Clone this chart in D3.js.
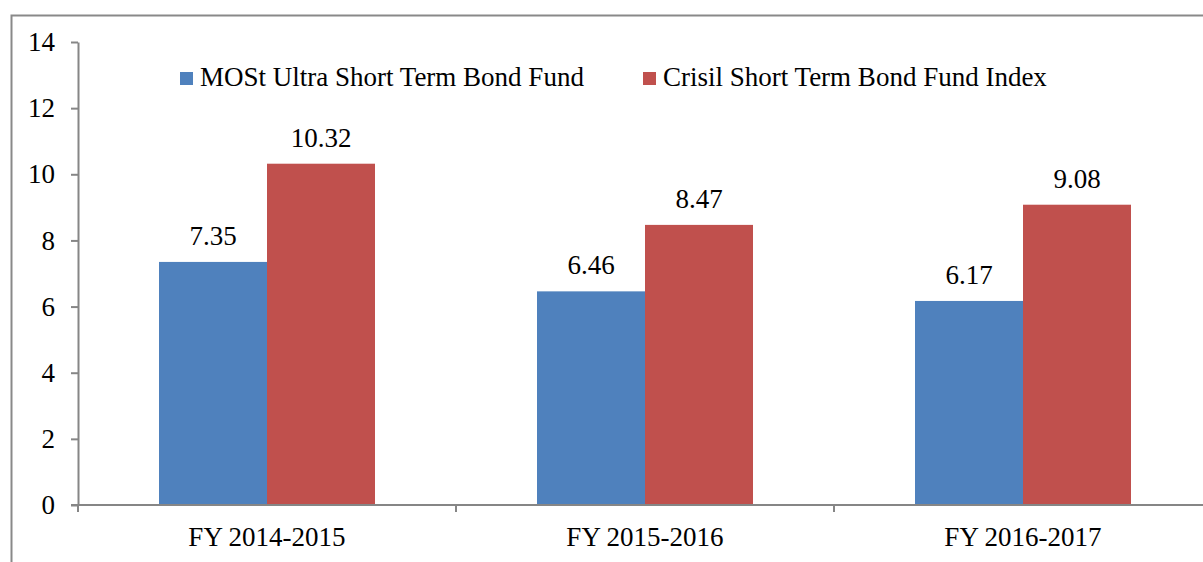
<!DOCTYPE html>
<html lang="en">
<head>
    <meta charset="utf-8">
    <title>MOSt Ultra Short Term Bond Fund vs Crisil Index</title>
    <script src="https://d3js.org/d3.v7.min.js"></script>
    <style>
        body { margin: 0; background: #fff; }
        svg { display: block; }
        text { font-family: "Liberation Serif", "Times New Roman", serif; fill: #000; font-size: 27px; }
        .axis path, .axis line { stroke: #868686; stroke-width: 2; }
    </style>
</head>
<body>
<script>
    // chart data
    var categories = ["FY 2014-2015", "FY 2015-2016", "FY 2016-2017"];
    var seriesNames = ["MOSt Ultra Short Term Bond Fund", "Crisil Short Term Bond Fund Index"];
    var fundValues = [7.35, 6.46, 6.17];
    var indexValues = [10.32, 8.47, 9.08];
    var yTicks = [0, 2, 4, 6, 8, 10, 12, 14];
    var colors = ["#4f81bd", "#c0504d"];

    var width = 1203, height = 562;
    var margin = {left: 78, top: 42, bottom: 505};
    var plotRight = 78 + 3 * 378; // plot runs past the right edge (cropped)

    var svg = d3.select("body").append("svg")
        .attr("width", width)
        .attr("height", height);

    // outer frame (only left and top visible)
    svg.append("path")
        .attr("d", "M11.5,562 V15.5 H1203")
        .attr("fill", "none")
        .attr("stroke", "#898989")
        .attr("stroke-width", 2);

    var x = d3.scaleBand()
        .domain(categories)
        .range([margin.left, plotRight]);

    var x1 = d3.scaleBand()
        .domain([0, 1])
        .range([0, x.bandwidth()])
        .paddingOuter(0.75);

    var y = d3.scaleLinear()
        .domain([0, 14])
        .range([margin.bottom, margin.top]);

    // y axis
    svg.append("g")
        .attr("class", "axis")
        .attr("transform", "translate(" + margin.left + ",0)")
        .call(d3.axisLeft(y).tickValues(yTicks).tickSize(7).tickSizeOuter(0).tickPadding(16))
        .selectAll("text")
        .style("font-family", "'Liberation Serif', 'Times New Roman', serif")
        .style("font-size", "27px");

    // bars
    var rows = categories.map(function(c, i) {
        return [{cat: c, s: 0, v: fundValues[i]}, {cat: c, s: 1, v: indexValues[i]}];
    });

    var groups = svg.append("g").selectAll("g")
        .data(rows)
        .enter().append("g")
        .attr("transform", function(d) { return "translate(" + x(d[0].cat) + ",0)"; });

    groups.selectAll("rect")
        .data(function(d) { return d; })
        .enter().append("rect")
        .attr("x", function(d) { return x1(d.s); })
        .attr("width", x1.bandwidth())
        .attr("y", function(d) { return y(d.v); })
        .attr("height", function(d) { return y(0) - y(d.v); })
        .attr("fill", function(d) { return colors[d.s]; });

    groups.selectAll("text")
        .data(function(d) { return d; })
        .enter().append("text")
        .attr("x", function(d) { return x1(d.s) + x1.bandwidth() / 2; })
        .attr("y", function(d) { return y(d.v) - 17; })
        .attr("text-anchor", "middle")
        .text(function(d) { return d.v.toFixed(2); });

    // x axis
    var xAxisG = svg.append("g")
        .attr("class", "axis")
        .attr("transform", "translate(0," + margin.bottom + ")");
    xAxisG.append("line")
        .attr("x1", margin.left - 7).attr("x2", width)
        .attr("y1", 0).attr("y2", 0);
    xAxisG.selectAll(".cat-tick")
        .data(categories)
        .enter().append("line")
        .attr("class", "cat-tick")
        .attr("x1", function(d) { return x(d); })
        .attr("x2", function(d) { return x(d); })
        .attr("y1", 0).attr("y2", 7);
    xAxisG.selectAll(".cat-label")
        .data(categories)
        .enter().append("text")
        .attr("class", "cat-label")
        .attr("x", function(d) { return x(d) + x.bandwidth() / 2; })
        .attr("y", 41)
        .attr("text-anchor", "middle")
        .text(function(d) { return d; });

    // legend
    var legendX = [180, 643];
    var legend = svg.append("g").selectAll("g")
        .data(seriesNames)
        .enter().append("g")
        .attr("transform", function(d, i) { return "translate(" + legendX[i] + ",72)"; });
    legend.append("rect")
        .attr("width", 13).attr("height", 13)
        .attr("fill", function(d, i) { return colors[i]; });
    legend.append("text")
        .attr("x", 20)
        .attr("y", 14)
        .text(function(d) { return d; });
</script>
</body>
</html>
